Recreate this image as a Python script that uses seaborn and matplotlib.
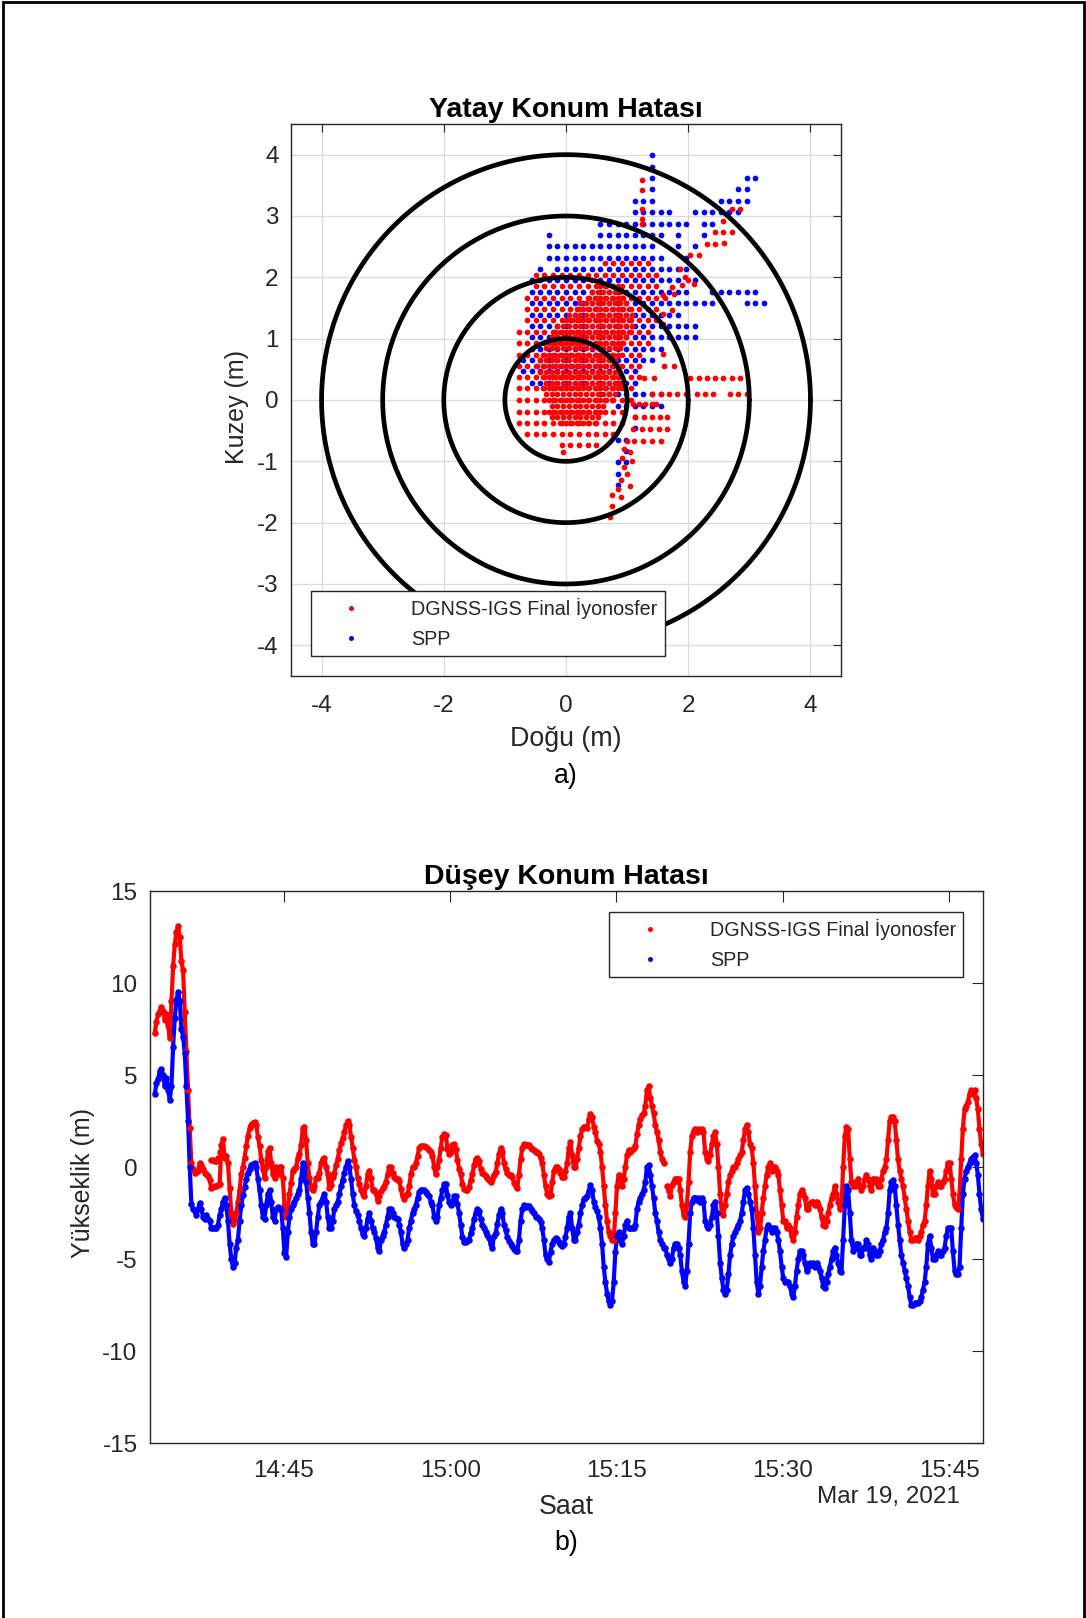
import numpy as np
import pandas as pd
import matplotlib
matplotlib.use("Agg")
import matplotlib.pyplot as plt
import matplotlib.dates as mdates
from matplotlib.lines import Line2D
from matplotlib.patches import Rectangle
import seaborn as sns

# ---------------- a) horizontal position error ----------------
ring_radii = [1, 2, 3, 4]

# SPP fixes lie on a regular east/north lattice (metres)
spp_step_east = 0.1408
spp_step_north = 0.1855
spp_north_origin = 0.095
# (north index, [(first east index, last east index), ...])
spp_rows = [
    (21, [(10, 10)]),
    (20, [(10, 10)]),
    (19, [(10, 10), (21, 22)]),
    (18, [(10, 10), (20, 21)]),
    (17, [(8, 10), (18, 21)]),
    (16, [(8, 12), (15, 20)]),
    (15, [(4, 14), (16, 17)]),
    (14, [(-2, -2), (4, 11), (13, 13), (16, 16)]),
    (13, [(-2, 10), (13, 13), (15, 15)]),
    (12, [(-2, 11), (14, 14)]),
    (11, [(-3, -3), (-1, 13), (14, 14)]),
    (10, [(-4, 13), (15, 15)]),
    (9, [(-4, 14), (17, 22)]),
    (8, [(-4, 17), (21, 23)]),
    (7, [(-4, 13)]),
    (6, [(-4, 15)]),
    (5, [(-4, 15)]),
    (4, [(-4, 11)]),
    (3, [(-5, 10)]),
    (2, [(-5, 8)]),
    (1, [(-4, 8)]),
    (0, [(4, 11)]),
    (-1, [(6, 11)]),
    (-2, [(8, 8)]),
    (-3, [(8, 8)]),
    (-4, [(6, 7)]),
    (-5, [(7, 7)]),
    (-6, [(6, 7)]),
    (-7, [(6, 6)]),
    (-8, [(6, 6)]),
]

# DGNSS cloud, dense centre: (north, east_min, east_max) on a staggered fine lattice
dgnss_core_rows = [
    (-0.37, -0.15, 0.50), (-0.28, -0.25, 0.60), (-0.19, -0.30, 0.65),
    (-0.09, -0.30, 0.70), (0.00, -0.35, 0.80), (0.09, -0.35, 0.85),
    (0.19, -0.40, 0.85), (0.28, -0.40, 0.90), (0.37, -0.45, 0.85),
    (0.46, -0.50, 0.85), (0.56, -0.50, 0.90), (0.65, -0.45, 0.80),
    (0.74, -0.45, 0.90), (0.84, -0.40, 0.95), (0.93, -0.30, 0.95),
    (1.02, -0.30, 1.00), (1.11, -0.20, 1.05), (1.21, -0.20, 1.10),
    (1.30, -0.05, 1.10), (1.39, 0.00, 1.10), (1.48, 0.15, 1.05),
    (1.58, 0.20, 1.00), (1.67, 0.35, 0.95), (1.76, 0.40, 0.90),
    (1.86, 0.55, 0.85),
]
# DGNSS cloud, sparser fringe: (north, east_min, east_max) between SPP lattice points
dgnss_fringe_rows = [
    (2.23, 0.55, 1.45), (2.04, -0.50, 1.50), (1.86, -0.60, 1.60),
    (1.67, -0.65, 1.65), (1.48, -0.70, 1.60), (1.30, -0.75, 1.50),
    (1.11, -0.80, 1.45), (0.93, -0.85, 1.40), (0.74, -0.90, 1.30),
    (0.56, -0.90, 1.20), (0.37, -0.90, 1.20), (0.19, -0.90, 1.15),
    (0.00, -0.90, 1.10), (-0.19, -0.90, 1.00), (-0.37, -0.90, 0.95),
    (-0.56, -0.70, 0.90), (-0.74, -0.20, 0.60),
]
# DGNSS outlying fixes (east, north)
dgnss_tail_east = [
    1.24, 1.24, 1.24, 1.24, 1.24, 2.72, 2.85, 2.57, 2.44, 2.57, 2.71, 2.30, 2.44, 2.59,
    2.03, 2.17, 1.87, 1.95, 1.89, 2.00, 2.09, 1.73, 1.59, 1.76, 1.73, 1.59, 1.59, 1.59,
    1.61, 1.76,
    2.03, 2.17, 2.30, 2.44, 2.57, 2.71, 2.85, 1.28, 1.44,
    1.40, 1.55, 1.68, 1.81, 1.97, 2.14, 2.27, 2.41, 2.69, 2.82, 2.96,
    1.10, 1.20, 1.30, 1.40, 1.48,
    1.13, 1.27, 1.40, 1.54, 1.65, 1.10, 1.24, 1.38, 1.52, 1.65, 1.00, 1.12, 1.26, 1.40, 1.55,
    0.95, 1.05, 0.92, 1.08, 0.95, 1.00, 0.90, 1.05, 0.75, 0.90, 0.75, 0.72, 0.85,
    -0.05,
]
dgnss_tail_north = [
    3.59, 3.42, 3.12, 2.95, 2.87, 3.11, 3.11, 2.92, 2.74, 2.74, 2.74, 2.54, 2.54, 2.56,
    2.36, 2.36, 2.14, 2.00, 1.87, 1.95, 1.89, 1.85, 1.71, 1.73, 1.46, 1.41, 1.24, 0.75,
    0.55, 0.55,
    0.36, 0.36, 0.36, 0.36, 0.36, 0.36, 0.36, 0.36, 0.36,
    0.10, 0.10, 0.10, 0.10, 0.10, 0.10, 0.10, 0.10, 0.10, 0.10, 0.10,
    -0.07, -0.07, -0.07, -0.07, -0.07,
    -0.28, -0.28, -0.28, -0.28, -0.28, -0.47, -0.47, -0.47, -0.47, -0.47,
    -0.67, -0.67, -0.67, -0.67, -0.67,
    -0.80, -0.85, -0.95, -1.00, -1.10, -1.20, -1.30, -1.40, -1.55, -1.58, -1.73, -1.90, -1.45,
    -0.85,
]

# ---------------- b) vertical position error ----------------
series_start = "2021-03-19 14:33:21"
sample_step_s = 9

dgnss_up = [
    7.3, 7.9, 8.3, 8.5, 8.7, 8.5, 8.0, 8.3, 7.7, 7.0,
    9.0, 10.9, 12.1, 12.75, 13.1, 12.5, 11.2, 10.7, 8.4, 6.3,
    4.2, 2.1, 0.2, -0.1, -0.3, -0.25, -0.2, 0.2, 0.1, -0.1,
    -0.3, -0.4, -0.5, -0.7, -1.15, -1.1, -1.05, -1.05, -1.0, -0.95,
    1.2, 1.5, 0.5, 0.6, 0.2, -1.15, -2.5, -3.1, -2.9, -2.5,
    -1.9, -1.25, -0.4, 0.0, 0.5, 1.15, 1.7, 2.1, 2.3, 2.4,
    2.45, 2.3, 1.65, 1.15, 0.4, -0.1, -0.6, 0.0, 0.85, 1.05,
    0.2, -0.4, -0.6, 0.0, -0.4, 0.0, 0.0, -0.6, -2.1, -2.7,
    -2.3, -1.45, -0.85, -0.2, -0.1, 0.0, 0.5, 0.7, 1.2, 2.1,
    2.2, 1.45, 0.2, -0.6, -1.15, -1.25, -1.05, -0.6, -0.6, -0.3,
    0.2, 0.45, 0.5, 0.0, -0.4, -1.15, -1.0, -0.55, -0.3, 0.1,
    0.45, 0.9, 1.3, 1.55, 1.9, 2.3, 2.5, 2.3, 1.65, 1.05,
    0.4, 0.0, -0.6, -0.95, -1.25, -1.45, -1.55, -1.05, -0.4, -0.2,
    -0.6, -1.25, -1.25, -1.4, -1.85, -1.6, -1.3, -1.15, -1.05, -0.8,
    -0.4, 0.0, 0.0, -0.3, -0.55, -0.63, -0.63, -0.75, -1.2, -1.6,
    -1.75, -1.5, -1.45, -1.05, -0.4, 0.0, 0.0, 0.2, 0.6, 1.05,
    1.15, 1.15, 1.15, 1.1, 1.05, 0.9, 0.8, 0.6, 0.0, -0.4,
    0.0, 0.4, 1.05, 1.65, 1.8, 1.75, 1.0, 0.7, 0.8, 1.2,
    1.25, 1.0, 0.4, -0.1, -0.4, -0.9, -1.2, -1.25, -1.25, -1.1,
    -0.7, -0.4, 0.1, 0.45, 0.5, 0.3, -0.1, -0.3, -0.4, -0.5,
    -0.6, -0.7, -0.83, -0.63, -0.42, -0.25, 0.2, 0.7, 1.05, 0.83,
    0.2, -0.1, -0.35, -0.42, -0.42, -0.55, -0.85, -1.04, -1.15, -0.42,
    0.42, 1.04, 1.25, 1.2, 1.2, 1.2, 1.04, 0.96, 0.9, 0.83,
    0.83, 0.73, 0.5, 0.2, -0.42, -1.04, -1.46, -1.6, -1.5, -0.83,
    -0.2, 0.0, 0.0, -0.1, -0.3,
    -0.55, -0.52, -0.2, 0.2, 1.04, 1.35, 0.63, 0.0, 0.0, 0.42,
    1.04, 1.67, 2.08, 2.2, 2.15, 2.1, 2.6, 2.9, 2.7, 2.2,
    1.9, 1.4, 1.25, 0.83, 0.0, -1.04, -2.08, -2.92, -3.54, -3.75,
    -3.96, -3.96, -2.5, -1.04, -0.42, -0.63, -1.04, -0.63, 0.0, 0.63,
    0.94, 0.83, 0.94, 1.04, 1.15, 1.77, 2.29, 2.6, 2.81, 2.92,
    3.33, 4.17, 4.38, 3.75, 3.33, 2.92, 2.29, 1.88, 1.46, 0.83,
    0.42, 0.21, np.nan, -1.04, -1.3, -1.56, -1.0, -0.83, -0.63, -0.63,
    -0.63, -1.25, -2.08, -2.6, -2.71, -2.08, -0.83, 0.83, 1.67, 1.98,
    2.08, 1.88, 2.08, 1.98, 2.08, 1.88, 0.83, 0.42, 0.31, 0.63,
    1.25, 1.67, 1.88, 1.25, 0.0, -1.46, -2.5, -2.6, -2.08, -1.46,
    -0.83, -0.42, -0.21, 0.0, 0.0, 0.21, 0.42, 0.63, 0.83, 1.46,
    2.08, 2.29, 1.88, 1.25, 1.04, 0.21, -1.04, -2.5, -3.54, -3.33,
    -2.5, -1.67, -1.04, -0.42, 0.0, 0.21, -0.21, 0.0, 0.0, -0.21,
    -0.42, -1.25, -2.08, -2.92, -2.92, -3.33, -3.13, -3.33, -3.75, -3.96,
    -3.54, -2.71, -2.08, -1.46, -1.25, -1.46, -1.67, -2.29, -2.29, -1.98,
    -1.88, -1.88, -2.08, -1.88, -2.08, -2.29, -2.71, -3.13, -3.23, -2.92,
    -2.5, -2.08, -1.67, -1.46, -1.04, -1.46, -1.88, -2.29, -2.08, 0.0,
    1.67, 2.19, 2.08, 0.42, -0.83, -1.04, -0.83, -1.04, -0.63, -1.04,
    -1.25, -1.04, -0.63, -0.42, -0.63, -1.04, -1.25, -0.63, -0.83, -0.63,
    -1.04, -1.04, -0.63, -0.21, 0.0, 0.42, 1.46, 2.5, 2.71, 2.71,
    2.5, 1.46, 0.42, -0.21, -0.63, -1.04, -1.67, -2.29, -2.92, -3.54,
    -3.96, -3.96, -3.85, -3.85, -3.96, -3.75, -3.54, -3.13, -2.92, -2.08,
    -1.04, -0.21, -0.63, -1.46, -1.46, -1.04, -0.83, -1.04, -1.04, -0.83,
    -0.63, -0.21, 0.21, 0.21, -0.63, -1.46, -2.08, -2.19, -2.29, -1.46,
    0.42, 2.08, 3.13, 3.33, 3.54, 3.96, 4.17, 3.96, 4.17, 3.75,
    3.13, 2.08, 1.25, 0.73,
]

# short burst of DGNSS fixes logged twice around 14:38-14:39
dgnss_extra_time = ["14:38:27", "14:38:36", "14:38:45", "14:38:54", "14:39:03", "14:39:12"]
dgnss_extra_up = [0.4, 0.4, 0.35, 0.3, 0.5, 0.8]

spp_up = [
    3.96, 4.58, 4.79, 5.21, 5.31, 5.0, 4.38, 4.85, 4.17, 3.65,
    4.38, 6.5, 8.1, 9.1, 9.5, 9.0, 7.5, 7.08, 6.2, 4.4,
    2.5, 0.0, -2.0, -2.3, -2.4, -2.6, -2.29, -1.98, -2.29, -2.71,
    -2.81, -2.6, -2.81, -2.92, -3.33, -3.33, -3.33, -3.33, -3.13, -2.6,
    -2.3, -1.88, -1.67, -2.08, -2.92, -4.17, -5.0, -5.42, -5.21, -4.38,
    -3.96, -2.92, -2.08, -1.5, -1.1, -0.63, -0.3, -0.1, 0.1, 0.15,
    0.2, 0.0, -0.63, -1.25, -2.08, -2.71, -2.81, -2.08, -1.46, -1.25,
    -1.88, -2.71, -2.92, -2.29, -2.19, -2.29, -2.29, -3.33, -4.7, -4.9,
    -3.54, -2.71, -2.29, -2.08, -1.88, -1.67, -1.46, -1.25, -0.63, 0.21,
    0.0, -0.83, -1.67, -2.5, -3.54, -4.17, -4.17, -3.54, -2.71, -2.08,
    -1.88, -1.67, -1.46, -1.88, -2.71, -3.33, -3.33, -2.92, -2.29, -2.08,
    -1.88, -1.46, -1.04, -0.7, -0.3, 0.0, 0.31, 0.0, -0.63, -1.46,
    -2.08, -2.4, -2.6, -2.92, -3.33, -3.65, -3.75, -3.33, -2.81, -2.5,
    -2.92, -3.33, -3.54, -3.85, -4.38, -4.58, -3.96, -3.75, -3.54, -3.13,
    -2.71, -2.29, -2.29, -2.5, -2.71, -2.75, -2.81, -3.13, -3.54, -4.17,
    -4.38, -4.17, -3.96, -3.33, -2.92, -2.5, -2.29, -2.08, -1.67, -1.35,
    -1.25, -1.25, -1.25, -1.35, -1.46, -1.6, -1.88, -2.08, -2.71, -2.92,
    -2.71, -2.08, -1.67, -1.25, -0.94, -0.94, -1.5, -1.9, -2.08, -1.9,
    -1.6, -1.6, -2.0, -2.5, -3.13, -3.8, -4.1, -4.1, -3.96, -3.96,
    -3.6, -3.33, -2.81, -2.5, -2.29, -2.4, -2.8, -3.13, -3.33, -3.54,
    -3.7, -3.85, -4.17, -4.38, -3.75, -3.6, -3.1, -2.6, -2.29, -2.5,
    -3.13, -3.45, -3.8, -4.0, -4.17, -4.3, -4.48, -4.58, -4.58, -3.96,
    -2.92, -2.29, -2.08, -2.2, -2.1, -2.1, -2.29, -2.4, -2.5, -2.71,
    -2.71, -2.81, -3.0, -3.33, -3.96, -4.79, -5.0, -5.15, -4.6, -4.17,
    -3.96, -3.85, -3.9, -4.1, -4.17,
    -4.27, -4.17, -3.8, -3.33, -2.71, -2.5, -3.33, -3.96, -3.96, -3.54,
    -3.13, -2.5, -2.08, -1.75, -1.67, -1.6, -1.3, -0.98, -1.25, -1.88,
    -2.2, -2.4, -2.71, -3.33, -4.17, -5.42, -6.25, -6.88, -7.29, -7.5,
    -7.29, -6.25, -4.6, -3.75, -3.54, -3.96, -4.17, -3.75, -3.13, -2.92,
    -3.33, -3.33, -3.33, -3.33, -3.13, -2.29, -1.88, -1.67, -1.46, -1.25,
    -0.83, 0.0, 0.1, -0.42, -1.04, -1.67, -2.5, -2.92, -3.54, -3.96,
    -4.17, -4.38, -4.38, -4.79, -5.0, -5.21, -5.0, -4.38, -4.17, -4.17,
    -4.38, -4.79, -5.63, -6.25, -6.46, -5.63, -4.17, -2.5, -1.88, -1.67,
    -1.67, -1.77, -1.67, -1.88, -1.67, -1.88, -2.92, -3.23, -3.33, -3.13,
    -2.71, -2.08, -1.88, -2.5, -3.75, -5.21, -6.04, -6.67, -6.88, -6.67,
    -5.83, -4.79, -4.17, -3.75, -3.54, -3.33, -3.13, -2.92, -2.5, -1.88,
    -1.25, -1.15, -1.46, -1.88, -2.29, -3.33, -4.79, -6.25, -6.88, -6.46,
    -5.42, -4.58, -3.96, -3.33, -3.13, -3.33, -3.54, -3.33, -3.33, -3.54,
    -3.96, -4.58, -5.42, -6.04, -6.25, -6.25, -6.25, -6.46, -6.88, -7.08,
    -6.46, -5.63, -5.0, -4.58, -4.58, -4.79, -5.21, -5.63, -5.42, -5.21,
    -5.31, -5.21, -5.42, -5.21, -5.42, -5.63, -6.04, -6.46, -6.56, -6.25,
    -5.83, -5.42, -5.0, -4.58, -4.38, -4.79, -5.21, -5.63, -5.73, -3.96,
    -2.08, -1.04, -1.25, -2.5, -3.96, -4.58, -4.38, -4.17, -4.17, -4.79,
    -4.79, -4.38, -4.38, -3.96, -4.17, -4.79, -5.0, -4.38, -4.58, -4.79,
    -4.79, -4.58, -4.17, -3.96, -3.54, -3.33, -2.5, -1.25, -0.83, -0.73,
    -1.04, -2.08, -3.13, -3.96, -4.79, -5.21, -5.63, -6.04, -6.46, -7.08,
    -7.5, -7.5, -7.4, -7.4, -7.4, -7.29, -7.08, -6.67, -6.25, -5.42,
    -4.17, -3.75, -4.38, -5.0, -5.0, -4.79, -4.58, -4.79, -4.79, -4.58,
    -4.38, -3.75, -3.33, -3.33, -3.33, -4.58, -5.63, -5.83, -5.83, -5.42,
    -3.33, -1.46, -0.63, -0.21, 0.0, 0.21, 0.42, 0.52, 0.63, 0.21,
    -0.42, -1.46, -2.29, -2.81,
]

time_ticks = ["14:45", "15:00", "15:15", "15:30", "15:45"]
time_window = ("2021-03-19 14:32:55", "2021-03-19 15:48:04")
height_ticks = [-15, -10, -5, 0, 5, 10, 15]
label_dgnss = "DGNSS-IGS Final İyonosfer"
label_spp = "SPP"

# ---------------- styling ----------------
sns.set_theme(style="white")
plt.rcParams["font.family"] = ["Liberation Sans", "DejaVu Sans"]
plt.rcParams["axes.unicode_minus"] = False

RED, BLUE = "#ff0000", "#0000ff"
AX_COL = "#262626"
TICK_FS, LABEL_FS, YLABEL_FS, TITLE_FS, LEG_FS = 17.5, 19.25, 18.0, 20.5, 14.2

W, H = 1086, 1618
fig = plt.figure(figsize=(W / 100, H / 100), dpi=100)


def px_axes(left, top, right, bottom):
    return fig.add_axes([left / W, 1 - bottom / H, (right - left) / W, (bottom - top) / H])


def style_axes(ax, tick_len, pad):
    for s in ax.spines.values():
        s.set_color(AX_COL)
        s.set_linewidth(1.0)
        s.set_visible(True)
    ax.tick_params(direction="in", top=True, right=True, length=tick_len, width=0.8,
                   color=AX_COL, labelcolor=AX_COL, labelsize=TICK_FS, pad=pad)
    ax.set_facecolor("white")


def legend_handles():
    return [
        Line2D([], [], ls="none", marker="o", ms=3.6, mec="none", mfc=RED, label=label_dgnss),
        Line2D([], [], ls="none", marker="o", ms=3.6, mec="none", mfc=BLUE, label=label_spp),
    ]


def add_legend(ax, **where):
    leg = ax.legend(handles=legend_handles(), borderaxespad=0, fontsize=LEG_FS, frameon=True,
                    fancybox=False, edgecolor=AX_COL, framealpha=1, borderpad=0.35,
                    handlelength=3.4, handletextpad=1.35, labelspacing=0.55, **where)
    leg.get_frame().set_linewidth(1.0)
    leg.set_zorder(5)
    return leg


# ---- expand lattice descriptions into point tables
spp_e, spp_n = [], []
for k, spans in spp_rows:
    for j0, j1 in spans:
        for j in range(j0, j1 + 1):
            spp_e.append(j * spp_step_east)
            spp_n.append(spp_north_origin + k * spp_step_north)
spp_pts = pd.DataFrame({"east": spp_e, "north": spp_n})

dg_e, dg_n = [], []
fine = spp_step_east * 2 / 3
for r, (n, e0, e1) in enumerate(dgnss_core_rows):
    shift = 0.5 * fine * (r % 2)
    for j in range(int(np.ceil((e0 - shift) / fine)), int(np.floor((e1 - shift) / fine)) + 1):
        dg_e.append(j * fine + shift)
        dg_n.append(n)
for n, e0, e1 in dgnss_fringe_rows:
    for j in range(int(np.ceil(e0 / spp_step_east - 0.5)), int(np.floor(e1 / spp_step_east - 0.5)) + 1):
        dg_e.append((j + 0.5) * spp_step_east)
        dg_n.append(n)
dg_e += dgnss_tail_east
dg_n += dgnss_tail_north
dgnss_pts = pd.DataFrame({"east": dg_e, "north": dg_n})

# ---------------- panel a ----------------
ax1 = px_axes(291, 124, 841, 676)
style_axes(ax1, 5.5, 9)
ax1.grid(True, color="#dcdcdc", lw=1.0, zorder=0)
ax1.set_axisbelow(True)

sns.scatterplot(data=spp_pts, x="east", y="north", color=BLUE, s=17, linewidth=0,
                ax=ax1, zorder=2, legend=False)
sns.scatterplot(data=dgnss_pts, x="east", y="north", color=RED, s=17, linewidth=0,
                ax=ax1, zorder=2.1, legend=False)

theta = np.linspace(0, 2 * np.pi, 721)
for r in ring_radii:
    ring = pd.DataFrame({"east": r * np.cos(theta), "north": r * np.sin(theta)})
    sns.lineplot(data=ring, x="east", y="north", sort=False, estimator=None,
                 color="black", lw=3.4, ax=ax1, zorder=3)

ax1.set_xlim(-4.5, 4.5)
ax1.set_ylim(-4.5, 4.5)
ax1.set_xticks([-4, -2, 0, 2, 4])
ax1.set_yticks([-4, -3, -2, -1, 0, 1, 2, 3, 4])
ax1.set_xlabel("")
ax1.set_ylabel("")
ax1.set_title("Yatay Konum Hatası", fontsize=TITLE_FS, fontweight="bold", color="black", pad=5)
ax1.tick_params(axis="x", pad=14)
add_legend(ax1, loc="lower left", bbox_to_anchor=(0.036, 0.036))

fig.text(237 / W, 1 - 407 / H, "Kuzey (m)", rotation=90, ha="center", va="center",
         fontsize=YLABEL_FS, color=AX_COL)
fig.text(566 / W, 1 - 739 / H, "Doğu (m)", ha="center", va="center", fontsize=LABEL_FS, color=AX_COL)
fig.text(566 / W, 1 - 776 / H, "a)", ha="center", va="center", fontsize=LABEL_FS, color="black")

# ---------------- panel b ----------------
ax2 = px_axes(150, 891, 983, 1443)
style_axes(ax2, 8, 9)


def series_frame(values):
    t = pd.Timestamp(series_start) + pd.to_timedelta(np.arange(len(values)) * sample_step_s, unit="s")
    df = pd.DataFrame({"time": t, "up": values})
    df["seg"] = df["up"].isna().cumsum()
    return df.dropna()


dgnss_df = series_frame(dgnss_up)
spp_df = series_frame(spp_up)
extra_df = pd.DataFrame({
    "time": pd.to_datetime(["2021-03-19 " + s for s in dgnss_extra_time]),
    "up": dgnss_extra_up,
})

for df, col in ((dgnss_df, RED), (spp_df, BLUE)):
    sns.lineplot(data=df, x="time", y="up", units="seg", estimator=None, color=col,
                 lw=3.0, ax=ax2, zorder=2)
    sns.scatterplot(data=df, x="time", y="up", color=col, s=22, linewidth=0, ax=ax2,
                    zorder=2.1, legend=False)
    if col == RED:
        sns.scatterplot(data=extra_df, x="time", y="up", color=RED, s=22, linewidth=0,
                        ax=ax2, zorder=2.1, legend=False)

ax2.set_xlim(pd.Timestamp(time_window[0]), pd.Timestamp(time_window[1]))
ax2.set_ylim(-15, 15)
ax2.set_yticks(height_ticks)
ax2.set_xticks([pd.Timestamp("2021-03-19 " + s) for s in time_ticks])
ax2.xaxis.set_major_formatter(mdates.DateFormatter("%H:%M"))
ax2.set_xlabel("")
ax2.set_ylabel("")
ax2.tick_params(axis="x", pad=12)
ax2.set_title("Düşey Konum Hatası", fontsize=TITLE_FS, fontweight="bold", color="black", pad=5)
add_legend(ax2, loc="upper right", bbox_to_anchor=(0.976, 0.962))

fig.text(83 / W, 1 - 1183 / H, "Yükseklik (m)", rotation=90, ha="center", va="center",
         fontsize=YLABEL_FS, color=AX_COL)
fig.text(566 / W, 1 - 1507 / H, "Saat", ha="center", va="center", fontsize=LABEL_FS, color=AX_COL)
fig.text(960 / W, 1 - 1497 / H, "Mar 19, 2021", ha="right", va="center", fontsize=TICK_FS, color=AX_COL)
fig.text(566 / W, 1 - 1543 / H, "b)", ha="center", va="center", fontsize=LABEL_FS, color="black")

# page frame
fig.patches.append(Rectangle((2.5 / W, -0.01), (W - 5) / W, 1.01 - 2.5 / H, transform=fig.transFigure,
                             fill=False, ec="black", lw=2.0))

fig.savefig("out.png", dpi=100, facecolor="white")
